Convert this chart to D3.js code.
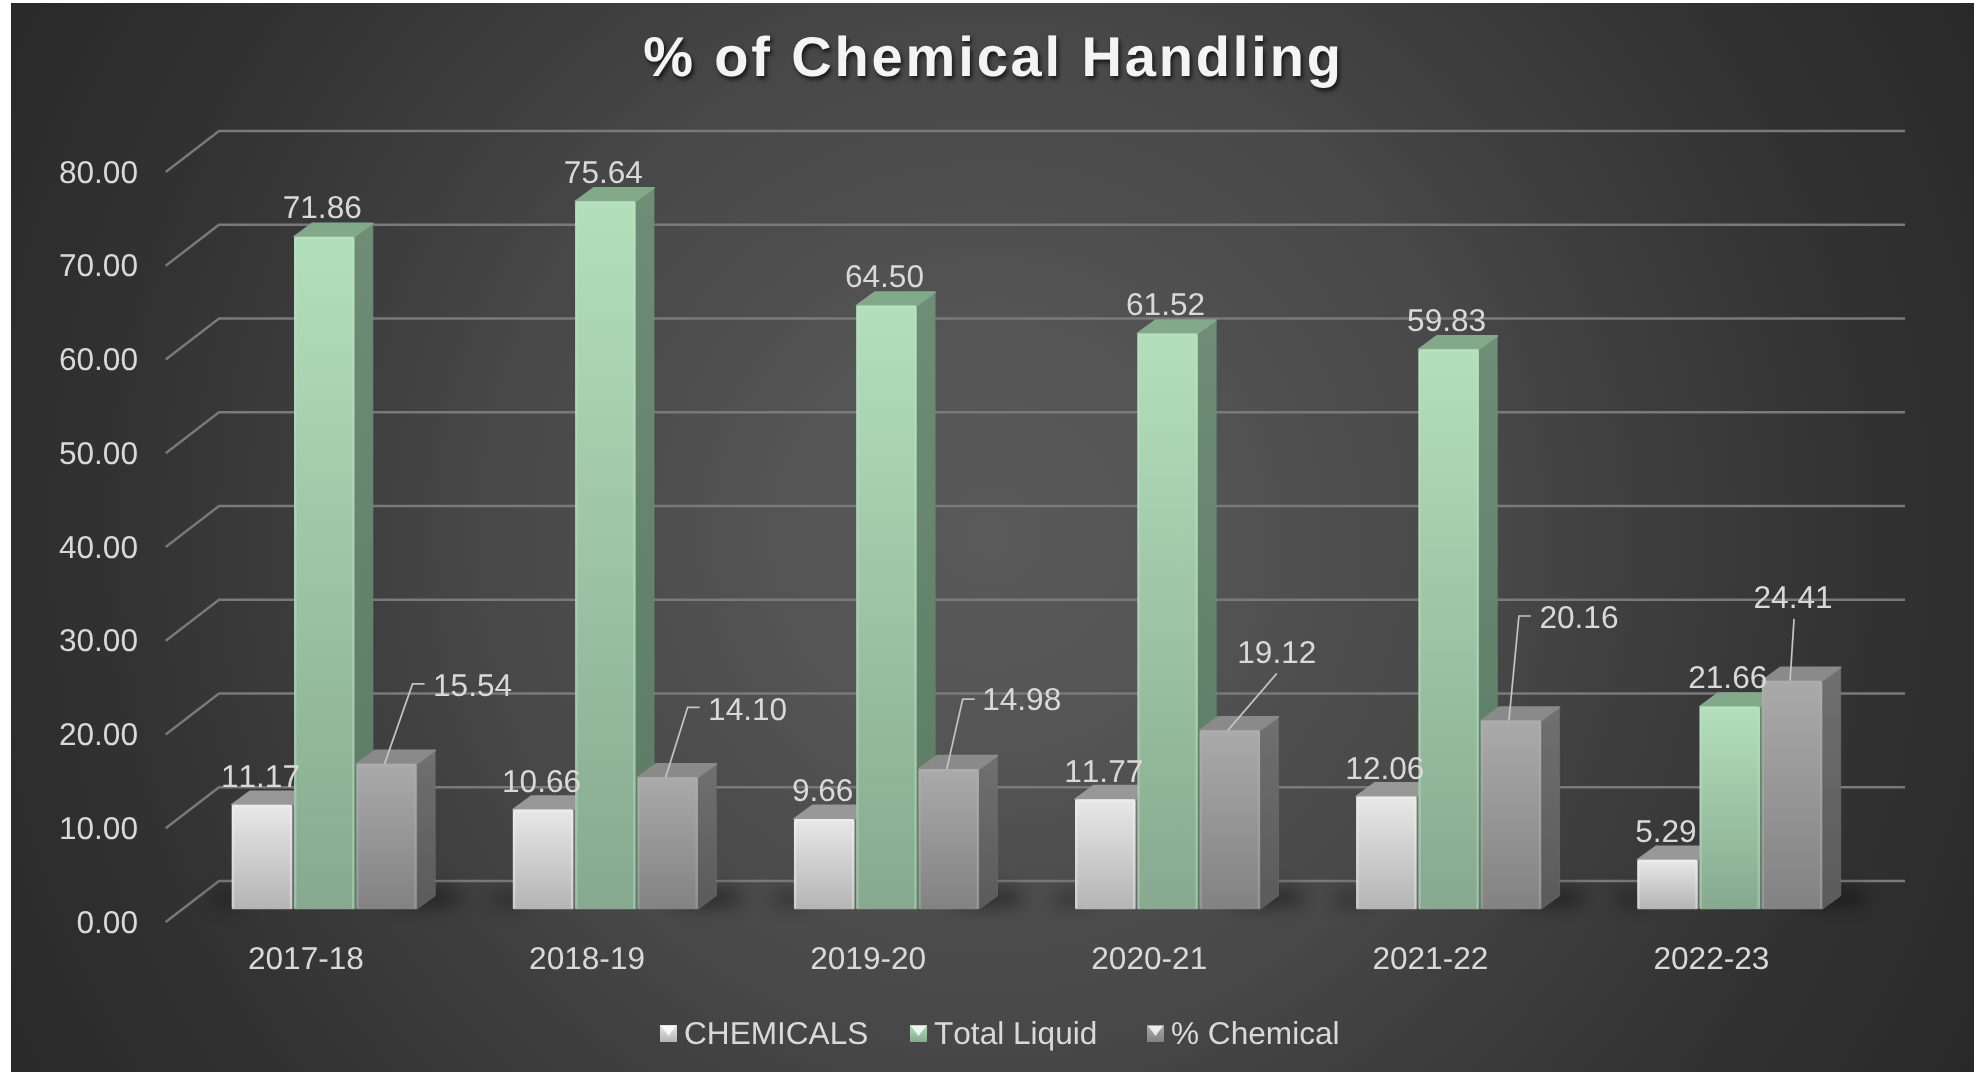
<!DOCTYPE html>
<html><head><meta charset="utf-8">
<script src="https://cdn.jsdelivr.net/npm/d3@7"></script>
<style>
html,body{margin:0;padding:0;background:#fff}
svg{display:block}
text{font-family:"Liberation Sans",Arial,sans-serif;text-rendering:geometricPrecision;font-kerning:none}
</style></head><body>
<svg id="c" width="1974" height="1072"></svg>
<script>
const categories = ["2017-18","2018-19","2019-20","2020-21","2021-22","2022-23"];
const seriesNames = ["CHEMICALS","Total Liquid","% Chemical"];
const chemicals = [11.17,10.66,9.66,11.77,12.06,5.29];
const totalLiquid = [71.86,75.64,64.50,61.52,59.83,21.66];
const pctChemical = [15.54,14.10,14.98,19.12,20.16,24.41];
const yTicks = [0,10,20,30,40,50,60,70,80];
const chartTitle = "% of Chemical Handling";
const seriesValues = [chemicals,totalLiquid,pctChemical];

const W=1974,H=1072;
const svg=d3.select("#c");
const defs=svg.append("defs");
const bgG=defs.append("radialGradient").attr("id","bg").attr("gradientUnits","userSpaceOnUse")
 .attr("cx",990).attr("cy",536).attr("r",1120);
[[0,"#5a5a5a"],[.2,"#545454"],[.3,"#4e4e4e"],[.45,"#484848"],[.55,"#404040"],[.8,"#313131"],[1,"#292929"]]
 .forEach(s=>bgG.append("stop").attr("offset",s[0]).attr("stop-color",s[1]));
const palette=[
 {front:["#e8e8e8","#b4b4b4"],side:["#777","#666"],top:"#989898",edge:"#f4f4f4"},
 {front:["#b3dfbb","#86a98f"],side:["#6f8d76","#5a7a63"],top:"#83a98b",edge:"#bfe8c6"},
 {front:["#aaaaaa","#828282"],side:["#707070","#5a5a5a"],top:"#8a8a8a",edge:"#b4b4b4"}];
palette.forEach((p,i)=>{
 const g=defs.append("linearGradient").attr("id","f"+i).attr("x1",0).attr("y1",0).attr("x2",0).attr("y2",1);
 g.append("stop").attr("offset",0).attr("stop-color",p.front[0]);
 g.append("stop").attr("offset",1).attr("stop-color",p.front[1]);
 const s=defs.append("linearGradient").attr("id","s"+i).attr("x1",0).attr("y1",0).attr("x2",0).attr("y2",1);
 s.append("stop").attr("offset",0).attr("stop-color",p.side[0]);
 s.append("stop").attr("offset",1).attr("stop-color",p.side[1]);
});
const blur=defs.append("filter").attr("id","blur").attr("x","-50%").attr("y","-100%").attr("width","200%").attr("height","300%");
blur.append("feGaussianBlur").attr("stdDeviation",9);
const soft=defs.append("filter").attr("id","soft").attr("filterUnits","userSpaceOnUse")
 .attr("x",0).attr("y",0).attr("width",W).attr("height",H);
soft.append("feGaussianBlur").attr("stdDeviation",0.55);

svg.append("rect").attr("x",11).attr("y",3).attr("width",W-11).attr("height",H-3).attr("fill","url(#bg)");
const root=svg.append("g").attr("filter","url(#soft)");

const yFront=d3.scaleLinear().domain([0,80]).range([909.3,160.5]);
const yWall=d3.scaleLinear().domain([0,80]).range([922,172]);
const yBack=d3.scaleLinear().domain([0,80]).range([881,131]);
const xWall=165.7,xBack=219,xRight=1905;
const depthX=18.5,depthY=13.5,groupW=185;

const gridLine=d3.line();
root.append("g").selectAll("path").data(yTicks).join("path")
 .attr("d",v=>gridLine([[xWall,yWall(v)],[xBack,yBack(v)],[xRight,yBack(v)]]))
 .attr("fill","none").attr("stroke","#7a7a7a").attr("stroke-width",2.4);

const x0=d3.scaleBand().domain(categories).range([183.7,183.7+281.1*6]);
const x1=d3.scaleBand().domain(seriesNames).range([0,groupW]).paddingInner(0.03).paddingOuter(0);
const groupLeft=c=>x0(c)+x0.bandwidth()/2-groupW/2;
const barW=x1.bandwidth();

// floor shadows
root.append("g").selectAll("ellipse").data(categories).join("ellipse")
 .attr("cx",c=>groupLeft(c)+groupW+8).attr("cy",yFront(0)-12).attr("rx",38).attr("ry",9)
 .attr("fill","#000").attr("opacity",.45).attr("filter","url(#blur)");
root.append("g").selectAll("ellipse").data(categories).join("ellipse")
 .attr("cx",c=>groupLeft(c)-4).attr("cy",yFront(0)-10).attr("rx",20).attr("ry",8)
 .attr("fill","#000").attr("opacity",.3).attr("filter","url(#blur)");

const bars=[];
categories.forEach((c,ci)=>seriesNames.forEach((s,si)=>bars.push({c,ci,s,si,v:seriesValues[si][ci]})));
const bx=d=>groupLeft(d.c)+x1(d.s);
const barG=root.append("g").selectAll("g").data(bars).join("g");
barG.append("path").attr("d",d=>{const x=bx(d)+barW,y=yFront(d.v),b=yFront(0);
  return `M${x},${y}L${x+depthX},${y-depthY}L${x+depthX},${b-depthY}L${x},${b}Z`;})
 .attr("fill",d=>`url(#s${d.si})`).attr("stroke",d=>palette[d.si].side[0]).attr("stroke-width",.6);
barG.append("path").attr("d",d=>{const x=bx(d),y=yFront(d.v);
  return `M${x},${y}L${x+depthX},${y-depthY}L${x+barW+depthX},${y-depthY}L${x+barW},${y}Z`;})
 .attr("fill",d=>palette[d.si].top).attr("stroke",d=>palette[d.si].top).attr("stroke-width",1.6).attr("stroke-linejoin","round");
barG.append("rect").attr("x",d=>bx(d)).attr("y",d=>yFront(d.v)).attr("width",barW).attr("height",d=>yFront(0)-yFront(d.v))
 .attr("rx",2).attr("fill",d=>`url(#f${d.si})`);
barG.append("path").attr("d",d=>{const x=bx(d),y=yFront(d.v),b=yFront(0);
  return `M${x+1.2},${b}L${x+1.2},${y+1.2}L${x+barW-1.2},${y+1.2}L${x+barW-1.2},${b}`;})
 .attr("fill","none").attr("stroke",d=>palette[d.si].edge).attr("stroke-width",2.4).attr("stroke-opacity",.38);

// axes
const axisL=d3.axisLeft(yWall).tickValues(yTicks).tickSize(0).tickPadding(27.7).tickFormat(d3.format(".2f"));
const gL=root.append("g").attr("transform",`translate(${xWall},0)`).call(axisL);
gL.select(".domain").remove();
gL.selectAll("text").attr("font-size",31.6).attr("fill","#d9d9d9").attr("font-family","Liberation Sans");
const axisB=d3.axisBottom(x0).tickSize(0).tickPadding(0);
const gB=root.append("g").attr("transform","translate(-18.3,947)").call(axisB);
gB.select(".domain").remove();
gB.selectAll("text").attr("font-size",31.6).attr("fill","#d9d9d9").attr("font-family","Liberation Sans");

// labels
const labels=root.append("g").attr("font-size",31.6).attr("fill","#d9d9d9").attr("text-anchor","middle");
bars.filter(d=>d.si<2).forEach(d=>{
 labels.append("text").attr("x",bx(d)+barW/2-(d.si?2:1.5)).attr("y",yFront(d.v)-(d.si?30:29)).attr("dy","0.36em").text(d.v.toFixed(2));
});
// moved labels of the third series, relative to the bar top: label dx, dy, leader end dy, elbow dx, end dx
const moved=[[86,-79,-80,26,38],[80,-69,-70,20,32],[73,-70,-70,14,26],[47,-79,-57,47,47],[68,-104,-104.6,8,20],[1,-84,-62,2,2]];
bars.filter(d=>d.si==2).forEach(d=>{
 const o=moved[d.ci], cx=bx(d)+barW/2, ty=yFront(d.v);
 labels.append("text").attr("x",cx+o[0]).attr("y",ty+o[1]).attr("dy","0.36em").text(d.v.toFixed(2));
 root.append("path").attr("d",gridLine([[cx-2,ty],[cx+o[3],ty+o[2]],[cx+o[4],ty+o[2]]]))
  .attr("fill","none").attr("stroke","#c4c4c4").attr("stroke-width",1.7);
});

// title
root.append("text").attr("x",993.5).attr("y",76).attr("text-anchor","middle").attr("font-size",56).attr("font-weight","bold")
 .attr("letter-spacing",2.85).attr("fill","#f4f4f4").style("text-shadow","2px 3px 4px rgba(0,0,0,.7)").text(chartTitle);

// legend
const legX=[660,910,1147], legG=root.append("g");
seriesNames.forEach((s,i)=>{
 const x=legX[i],g=legG.append("g").attr("transform",`translate(${x},1025)`);
 g.append("rect").attr("width",17).attr("height",17).attr("fill",`url(#f${i})`);
 g.append("path").attr("d","M1,1L16,1L8.5,11Z").attr("fill","#fff").attr("opacity",.8);
 g.append("text").attr("x",24).attr("y",19).attr("font-size",31.6).attr("fill","#d9d9d9").text(s);
});
</script></body></html>
